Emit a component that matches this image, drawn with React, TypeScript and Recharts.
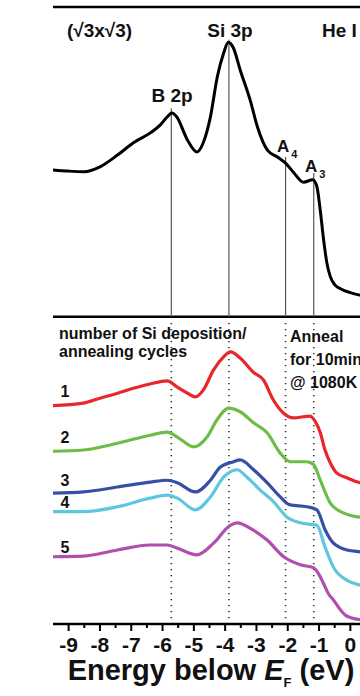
import React from 'react';
import { LineChart, Line, XAxis, YAxis, ReferenceLine, ReferenceDot } from 'recharts';

const FONT = '"Liberation Sans", Arial, Helvetica, sans-serif';

// x-axis ticks (energy, eV); integers get labels, halves are minor ticks
const energyTicks = [-9, -8.5, -8, -7.5, -7, -6.5, -6, -5.5, -5, -4.5, -4, -3.5, -3, -2.5, -2, -1.5, -1, -0.5, 0];

// feature energies (eV)
const featureNames = ['B 2p', 'Si 3p', 'A4', 'A3'];
const featureEnergy = [-5.72, -3.88, -2.07, -1.17];
const featureTopLevel = [83.6, 94.7, 75.7, 73.1];

// top panel: (√3x√3) reference spectrum
const topEnergy = [-9.5, -9.0, -8.5, -8.0, -7.44, -6.93, -6.39, -6.07, -5.85, -5.7, -5.55, -5.2, -4.9, -4.7, -4.47, -4.25, -4.05, -3.9, -3.74, -3.52, -3.2, -2.97, -2.65, -2.33, -2.07, -1.8, -1.5, -1.2, -1.07, -0.96, -0.86, -0.75, -0.64, -0.5, -0.3, 0.0, 0.3, 0.5];
const topIntensity = [73.6, 73.4, 73.3, 74.1, 76.0, 78.0, 79.6, 80.9, 82.2, 82.8, 82.2, 78.4, 76.5, 78.0, 82.2, 88.7, 92.5, 94.3, 93.4, 89.8, 84.9, 80.6, 76.8, 75.7, 74.7, 73.1, 71.6, 72.0, 70.9, 67.0, 62.5, 58.5, 56.3, 55.0, 54.3, 53.7, 53.3, 53.2];

// bottom panel: cycles 1..5
const c1Energy = [-9.5, -8.53, -8.0, -7.44, -6.93, -6.4, -5.85, -5.53, -5.2, -4.95, -4.7, -4.37, -4.05, -3.83, -3.52, -3.1, -2.77, -2.46, -2.14, -1.82, -1.29, -1.13, -0.96, -0.81, -0.64, -0.44, -0.11, 0.32, 0.5];
const c1Intensity = [35.4, 35.8, 36.6, 37.4, 38.2, 38.9, 39.4, 38.4, 37.4, 36.8, 37.9, 41.2, 43.3, 44.1, 43.1, 40.8, 39.5, 36.3, 34.2, 33.4, 33.7, 32.9, 31.0, 28.2, 26.1, 24.5, 23.7, 22.9, 22.8];

const c2Energy = [-9.5, -8.53, -7.44, -6.4, -5.85, -5.53, -5.0, -4.58, -4.26, -3.88, -3.52, -3.09, -2.66, -2.24, -1.92, -1.39, -1.17, -0.96, -0.64, -0.22, 0.32, 0.5];
const c2Intensity = [28.0, 28.2, 29.3, 30.6, 31.1, 30.3, 28.7, 30.3, 33.1, 35.0, 34.4, 32.6, 31.0, 27.7, 26.3, 26.3, 25.8, 23.3, 19.6, 18.0, 17.3, 17.2];

const c3Energy = [-9.5, -8.53, -7.44, -6.4, -5.85, -5.53, -4.95, -4.47, -4.16, -3.73, -3.52, -3.09, -2.66, -2.24, -1.92, -1.39, -1.07, -0.8, -0.54, -0.11, 0.32, 0.5];
const c3Intensity = [21.2, 21.4, 22.2, 23.0, 23.3, 22.9, 21.4, 23.3, 25.4, 26.3, 26.6, 25.0, 22.9, 20.6, 19.3, 19.0, 18.5, 15.2, 13.1, 12.0, 11.7, 11.6];

const c4Energy = [-9.5, -8.53, -7.44, -6.4, -5.85, -5.53, -4.95, -4.47, -4.05, -3.62, -3.3, -2.88, -2.45, -2.02, -1.6, -1.07, -0.81, -0.54, -0.11, 0.32, 0.5];
const c4Intensity = [18.2, 18.2, 19.0, 20.4, 20.9, 20.4, 18.5, 20.6, 23.8, 25.0, 23.8, 21.7, 19.8, 17.3, 16.4, 16.0, 12.5, 9.2, 7.1, 6.3, 6.1];

const c5Energy = [-9.5, -8.53, -7.44, -6.4, -5.85, -5.53, -4.9, -4.37, -3.84, -3.62, -3.1, -2.66, -2.13, -1.6, -1.17, -1.0, -0.86, -0.7, -0.54, -0.3, -0.12, 0.32, 0.5];
const c5Intensity = [10.9, 11.0, 12.0, 12.8, 12.8, 12.3, 11.2, 13.1, 16.0, 16.4, 15.2, 13.6, 10.9, 9.6, 9.1, 8.0, 6.6, 4.9, 3.9, 2.2, 1.3, 0.7, 0.6];

const toPoints = (es: number[], vs: number[]) => es.map((e, i) => ({ e, v: vs[i] }));

const topData = toPoints(topEnergy, topIntensity);
const cycles = [
  { name: '1', color: '#e8262b', data: toPoints(c1Energy, c1Intensity) },
  { name: '2', color: '#6bbd45', data: toPoints(c2Energy, c2Intensity) },
  { name: '3', color: '#3650a6', data: toPoints(c3Energy, c3Intensity) },
  { name: '4', color: '#5ec7df', data: toPoints(c4Energy, c4Intensity) },
  { name: '5', color: '#b04fae', data: toPoints(c5Energy, c5Intensity) },
];

const DIVIDER = 49.8;

const textLabel = (content: React.ReactNode, anchor: 'start' | 'middle' | 'end', size: number) =>
  (props: any) => {
    const vb = props.viewBox || {};
    return (
      <text x={vb.x} y={vb.y} textAnchor={anchor} fontFamily={FONT} fontWeight="bold" fontSize={size} fill="#111">
        {content}
      </text>
    );
  };

const EnergyTick = (props: any) => {
  const { x, y, payload } = props;
  const v = payload.value as number;
  const major = Number.isInteger(v);
  return (
    <g>
      <line x1={x} x2={x} y1={y} y2={y + (major ? 7 : 4)} stroke="#000" strokeWidth={2} />
      {major && (
        <text x={x} y={y + 28} textAnchor="middle" fontFamily={FONT} fontWeight="bold" fontSize={21} fill="#111">
          {String(v)}
        </text>
      )}
    </g>
  );
};

const XLabel = (props: any) => {
  const vb = props.viewBox || { x: 53, y: 624, width: 313 };
  return (
    <text x={vb.x + vb.width / 2 + 1.5} y={vb.y + 56} textAnchor="middle" fontFamily={FONT} fontWeight="bold" fontSize={29} fill="#111">
      <tspan>Energy below </tspan>
      <tspan fontStyle="italic">E</tspan>
      <tspan fontSize={13} dy={7}>F</tspan>
      <tspan dy={-7}> (eV)</tspan>
    </text>
  );
};

const YLabel = (props: any) => {
  const vb = props.viewBox || { x: 53, y: 7, height: 617 };
  const x = vb.x - 14;
  const y = vb.y + vb.height / 2 + 4.5;
  return (
    <text x={x} y={y} transform={`rotate(-90, ${x}, ${y})`} textAnchor="middle" fontFamily={FONT} fontWeight="bold" fontSize={29} fill="#111">
      Intensity (arb. units)
    </text>
  );
};

export default function App() {
  return (
    <div style={{ position: 'absolute', left: 0, top: 0, width: 360, height: 696, overflow: 'hidden', background: '#fff' }}>
      <LineChart width={380} height={696} margin={{ top: 7, right: 14, bottom: 32, left: 53 }}>
        <XAxis
          type="number"
          dataKey="e"
          domain={[-9.5, 0.5]}
          ticks={energyTicks}
          interval={0}
          tickSize={0}
          tickMargin={0}
          tickLine={false}
          tick={<EnergyTick />}
          height={40}
          axisLine={{ stroke: '#000', strokeWidth: 2.5 }}
          allowDataOverflow
          label={<XLabel />}
        />
        <YAxis
          type="number"
          dataKey="v"
          domain={[0, 100]}
          width={0}
          tick={false}
          tickLine={false}
          axisLine={{ stroke: '#000', strokeWidth: 2.5 }}
          allowDataOverflow
          label={<YLabel />}
        />
        <ReferenceLine y={100} stroke="#000" strokeWidth={2.5} ifOverflow="visible" />
        <ReferenceLine y={DIVIDER} stroke="#000" strokeWidth={2.5} />
        {featureEnergy.map((e, i) => (
          <ReferenceLine
            key={'top' + featureNames[i]}
            segment={[{ x: e, y: featureTopLevel[i] }, { x: e, y: DIVIDER }]}
            stroke="#555"
            strokeWidth={1.2}
          />
        ))}
        {featureEnergy.map((e, i) => (
          <ReferenceLine
            key={'bot' + featureNames[i]}
            segment={[{ x: e, y: DIVIDER - 1 }, { x: e, y: 0 }]}
            stroke="#333"
            strokeWidth={1.6}
            strokeDasharray="1.4 4.6"
          />
        ))}
        <Line data={topData} dataKey="v" type="monotone" stroke="#000" strokeWidth={3} dot={false} isAnimationActive={false} />
        {cycles.map((c) => (
          <Line key={c.name} data={c.data} dataKey="v" name={c.name} type="monotone" stroke={c.color} strokeWidth={3.2} dot={false} isAnimationActive={false} />
        ))}
        <ReferenceDot x={-9.053} y={95.1} r={0} fill="none" stroke="none" label={textLabel('(√3x√3)', 'start', 19)} />
        <ReferenceDot x={-3.845} y={95.1} r={0} fill="none" stroke="none" label={textLabel('Si 3p', 'middle', 19)} />
        <ReferenceDot x={-0.906} y={95.1} r={0} fill="none" stroke="none" label={textLabel('He I', 'start', 19)} />
        <ReferenceDot x={-5.698} y={84.6} r={0} fill="none" stroke="none" label={textLabel('B 2p', 'middle', 19)} />
        <ReferenceDot x={-2.343} y={76.5} r={0} fill="none" stroke="none" label={textLabel(<><tspan>A</tspan><tspan fontSize={11} dx={2} dy={6}>4</tspan></>, 'start', 17)} />
        <ReferenceDot x={-1.449} y={73.3} r={0} fill="none" stroke="none" label={textLabel(<><tspan>A</tspan><tspan fontSize={11} dx={2} dy={6}>3</tspan></>, 'start', 17)} />
        <ReferenceDot x={-9.308} y={46.2} r={0} fill="none" stroke="none" label={textLabel('number of Si deposition/', 'start', 16)} />
        <ReferenceDot x={-9.308} y={43.2} r={0} fill="none" stroke="none" label={textLabel('annealing cycles', 'start', 16)} />
        <ReferenceDot x={-1.928} y={45.7} r={0} fill="none" stroke="none" label={textLabel('Anneal', 'start', 16)} />
        <ReferenceDot x={-1.928} y={42.0} r={0} fill="none" stroke="none" label={textLabel('for 10min', 'start', 16)} />
        <ReferenceDot x={-1.928} y={38.2} r={0} fill="none" stroke="none" label={textLabel('@ 1080K', 'start', 16)} />
        <ReferenceDot x={-9.117} y={36.8} r={0} fill="none" stroke="none" label={textLabel(cycles[0].name, 'middle', 16)} />
        <ReferenceDot x={-9.117} y={29.3} r={0} fill="none" stroke="none" label={textLabel(cycles[1].name, 'middle', 16)} />
        <ReferenceDot x={-9.117} y={22.3} r={0} fill="none" stroke="none" label={textLabel(cycles[2].name, 'middle', 16)} />
        <ReferenceDot x={-9.117} y={18.8} r={0} fill="none" stroke="none" label={textLabel(cycles[3].name, 'middle', 16)} />
        <ReferenceDot x={-9.117} y={11.5} r={0} fill="none" stroke="none" label={textLabel(cycles[4].name, 'middle', 16)} />
      </LineChart>
    </div>
  );
}
